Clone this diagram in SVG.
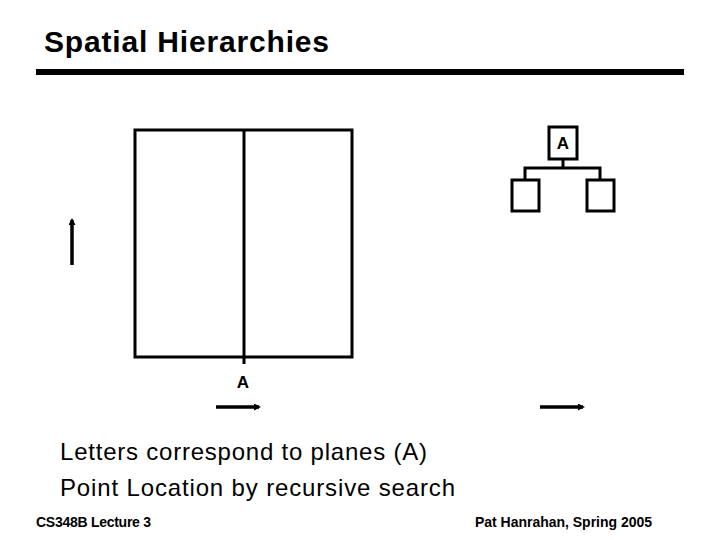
<svg xmlns="http://www.w3.org/2000/svg" width="720" height="540" viewBox="0 0 720 540">
<style>
text{font-family:"Liberation Sans",Arial,sans-serif;fill:#000}
.t{font-size:30px;font-weight:bold}
.b{font-size:24px}
.f{font-size:14px;font-weight:bold}
.l{font-size:17px;font-weight:bold;text-anchor:middle}
.s{fill:#fff;stroke:#000;stroke-width:3}
.c{stroke:#000;stroke-width:3;fill:none}
.a{stroke:#000;stroke-width:3.5;fill:none}
</style>
<defs>
<marker id="ah" markerWidth="7" markerHeight="7" refX="5" refY="3.5" orient="auto" markerUnits="userSpaceOnUse" viewBox="0 0 7 7">
<path d="M0,0 L7,3.5 L0,7 z" fill="#000"/>
</marker>
</defs>
<rect width="720" height="540" fill="#fff"/>
<text class="t" x="44" y="52" textLength="285" lengthAdjust="spacing">Spatial Hierarchies</text>
<rect x="36" y="69" width="648" height="6" fill="#000"/>
<g id="space">
<rect class="s" x="135" y="130" width="217" height="227"/>
<line class="c" x1="244" y1="130" x2="244" y2="364"/>
<text class="l" x="243" y="388">A</text>
</g>
<g id="nodeA"><rect class="s" x="549" y="127" width="28" height="32"/><text class="l" x="563" y="149">A</text></g>
<g id="nodeL"><rect class="s" x="512" y="180" width="27" height="31"/></g>
<g id="nodeR"><rect class="s" x="587" y="180" width="27" height="31"/></g>
<g id="connectors">
<polyline class="c" points="563,159 563,168"/>
<polyline class="c" points="525,180 525,168 600,168 600,180"/>
<line class="a" x1="72" y1="265" x2="72" y2="220" marker-end="url(#ah)"/>
<line class="a" x1="216" y1="407" x2="259" y2="407" marker-end="url(#ah)"/>
<line class="a" x1="540" y1="407" x2="583" y2="407" marker-end="url(#ah)"/>
</g>
<text class="b" x="60" y="460" textLength="367" lengthAdjust="spacing">Letters correspond to planes (A)</text>
<text class="b" x="60" y="496" textLength="395" lengthAdjust="spacing">Point Location by recursive search</text>
<text class="f" x="36" y="527" textLength="115" lengthAdjust="spacing">CS348B Lecture 3</text>
<text class="f" x="475" y="527" textLength="177" lengthAdjust="spacing">Pat Hanrahan, Spring 2005</text>
</svg>
